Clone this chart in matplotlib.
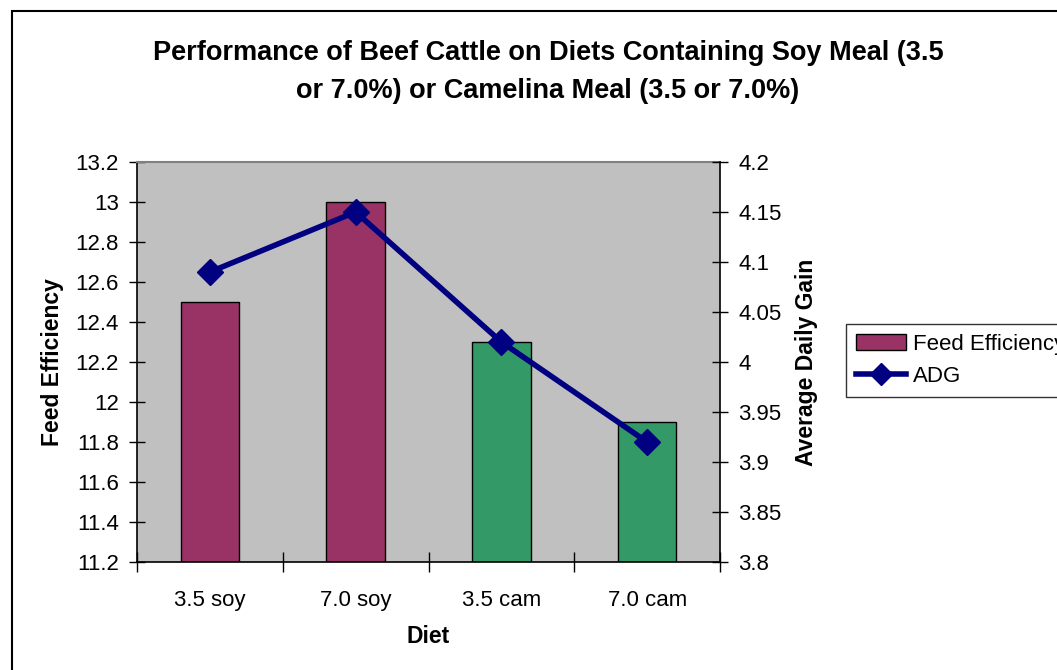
import matplotlib
matplotlib.use("Agg")
import matplotlib.pyplot as plt
from matplotlib.patches import Rectangle
from matplotlib.lines import Line2D
from matplotlib.ticker import FuncFormatter

plt.rcParams['font.family'] = ['Liberation Sans', 'DejaVu Sans']

diets = ["3.5 soy", "7.0 soy", "3.5 cam", "7.0 cam"]
feed_eff = [12.5, 13.0, 12.3, 11.9]
adg = [4.09, 4.15, 4.02, 3.92]
bar_colors = ["#993366", "#993366", "#339966", "#339966"]

fig = plt.figure(figsize=(10.57, 6.70), dpi=100)
fig.patches.append(Rectangle((12/1057, -0.1), 1.2, (670-11)/670 + 0.1,
                             transform=fig.transFigure, fill=False,
                             edgecolor="black", linewidth=1.5))

ax = fig.add_axes([137/1057, (670-562)/670, (720-137)/1057, (562-162)/670])
ax.set_facecolor("#C0C0C0")
x = list(range(len(diets)))
ax.bar(x, feed_eff, width=0.4, color=bar_colors, edgecolor="black", linewidth=1, zorder=2)
ax.set_xlim(-0.5, 3.5)
ax.set_ylim(11.2, 13.2)
ax.set_yticks([11.2 + 0.2*i for i in range(11)])
ax.yaxis.set_major_formatter(FuncFormatter(lambda v, p: f"{v:g}"))
ax.set_xticks(x)
ax.set_xticklabels(diets)
ax.set_xticks([-0.5, 0.5, 1.5, 2.5, 3.5], minor=True)
ax.tick_params(axis='x', which='major', length=0, labelsize=16, pad=20)
ax.tick_params(axis='x', which='minor', direction='inout', length=15, width=1)
ax.tick_params(axis='y', direction='inout', length=12, width=1, labelsize=16, pad=7)
for s in ['left', 'bottom']:
    ax.spines[s].set_color("black")
    ax.spines[s].set_linewidth(1.2)
ax.spines['top'].set_color("#808080")
ax.spines['top'].set_linewidth(1.5)
ax.spines['right'].set_visible(False)
ax.set_ylabel("Feed Efficiency", fontsize=16.5, fontweight='bold', labelpad=8)
ax.set_xlabel("Diet", fontsize=16.5, fontweight='bold', labelpad=10)

ax2 = ax.twinx()
ax2.plot(x, adg, color="#000080", linewidth=4, marker='D', markersize=13, zorder=3)
ax2.set_ylim(3.8, 4.2)
ax2.set_yticks([3.8 + 0.05*i for i in range(9)])
ax2.yaxis.set_major_formatter(FuncFormatter(lambda v, p: f"{round(v, 2):g}"))
ax2.tick_params(axis='y', direction='inout', length=12, width=1, labelsize=16, pad=7)
ax2.spines['right'].set_color("black")
ax2.spines['right'].set_linewidth(1.2)
for s in ['left', 'top', 'bottom']:
    ax2.spines[s].set_visible(False)
ax2.set_ylabel("Average Daily Gain", fontsize=16.5, fontweight='bold', labelpad=10)

fig.text(548/1057, 1 - 72/670,
         "Performance of Beef Cattle on Diets Containing Soy Meal (3.5\nor 7.0%) or Camelina Meal (3.5 or 7.0%)",
         ha='center', va='center', fontsize=19.5, fontweight='bold', linespacing=1.55)

handles = [Rectangle((0, 0), 1, 1, facecolor="#993366", edgecolor="black"),
           Line2D([], [], color="#000080", linewidth=4, marker='D', markersize=11)]
leg = fig.legend(handles, ["Feed Efficiency", "ADG"], loc='upper left',
                 bbox_to_anchor=(846/1057, 1 - 324/670), frameon=True, fancybox=False,
                 edgecolor="black", fontsize=16, handlelength=2.25, handletextpad=0.3,
                 borderpad=0.45, labelspacing=0.5, borderaxespad=0)
leg.get_frame().set_linewidth(1)

fig.savefig("out.png", dpi=100)
